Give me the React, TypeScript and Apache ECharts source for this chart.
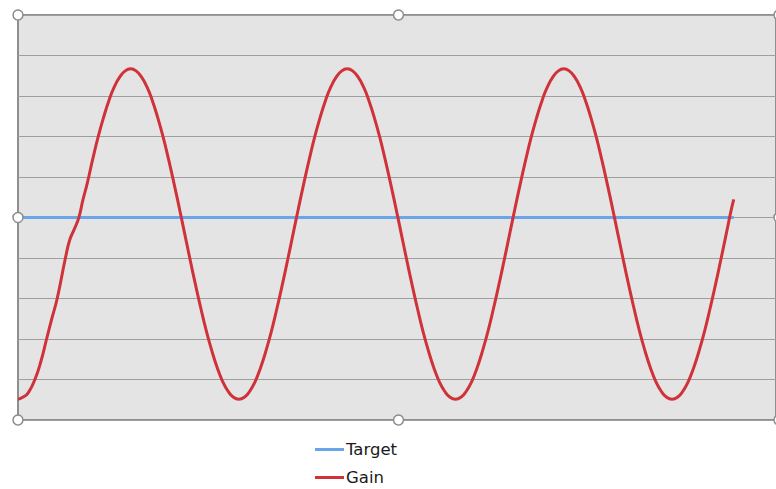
import React, { useEffect, useRef } from "react";
import * as echarts from "echarts";

// Sampled response: time (x) and gain level (y)
const gainX = [
  0, 0.22, 0.47, 0.78, 1.06, 1.32, 1.56, 1.81, 2.19, 2.39, 2.59, 2.81, 3.0,
  3.2, 3.45, 3.7, 3.95, 4.2, 4.45, 4.7, 4.95,
  5.2, 5.45, 5.7, 5.95, 6.2, 6.45, 6.7, 6.95, 7.2, 7.45, 7.7, 7.95, 8.2, 8.45, 8.7, 8.95, 9.2, 9.45, 9.7, 9.95,
  10.2, 10.45, 10.7, 10.95, 11.2, 11.45, 11.7, 11.95, 12.2, 12.45, 12.7, 12.95, 13.2, 13.45, 13.7, 13.95, 14.2, 14.45, 14.7, 14.95,
  15.2, 15.45, 15.7, 15.95, 16.2, 16.45, 16.7, 16.95, 17.2, 17.45, 17.7, 17.95, 18.2, 18.45, 18.7, 18.95, 19.2, 19.45, 19.7, 19.95,
  20.2, 20.45, 20.7, 20.95, 21.2, 21.45, 21.7, 21.95, 22.2, 22.45, 22.7, 22.95, 23.2, 23.45, 23.7, 23.95, 24.2, 24.45, 24.7, 24.95,
  25.2, 25.45, 25.7, 25.95, 26.2, 26.45, 26.7, 26.95, 27.2, 27.45, 27.7, 27.95, 28.2, 28.45, 28.7, 28.95, 29.2, 29.45, 29.7, 29.95,
  30.2, 30.45, 30.7, 30.95, 31.2, 31.45, 31.7, 31.95, 32.2, 32.45, 32.7, 32.95, 33.05,
];
const gainY = [
  0.51, 0.56, 0.67, 1.0, 1.45, 2.0, 2.5, 3.0, 4.0, 4.45, 4.7, 5.0, 5.44,
  5.85, 6.44, 6.99, 7.47, 7.89, 8.23, 8.47, 8.62,
  8.67, 8.62, 8.47, 8.23, 7.89, 7.47, 6.99, 6.44, 5.85, 5.23, 4.59, 3.95, 3.33, 2.74, 2.19, 1.71, 1.29, 0.95, 0.71, 0.56,
  0.51, 0.56, 0.71, 0.95, 1.29, 1.71, 2.19, 2.74, 3.33, 3.95, 4.59, 5.23, 5.85, 6.44, 6.99, 7.47, 7.89, 8.23, 8.47, 8.62,
  8.67, 8.62, 8.47, 8.23, 7.89, 7.47, 6.99, 6.44, 5.85, 5.23, 4.59, 3.95, 3.33, 2.74, 2.19, 1.71, 1.29, 0.95, 0.71, 0.56,
  0.51, 0.56, 0.71, 0.95, 1.29, 1.71, 2.19, 2.74, 3.33, 3.95, 4.59, 5.23, 5.85, 6.44, 6.99, 7.47, 7.89, 8.23, 8.47, 8.62,
  8.67, 8.62, 8.47, 8.23, 7.89, 7.47, 6.99, 6.44, 5.85, 5.23, 4.59, 3.95, 3.33, 2.74, 2.19, 1.71, 1.29, 0.95, 0.71, 0.56,
  0.51, 0.56, 0.71, 0.95, 1.29, 1.71, 2.19, 2.74, 3.33, 3.95, 4.59, 5.23, 5.45,
];
const targetX = [0, 33.05];
const targetY = [5, 5];

const seriesNames = ["Target", "Gain"];

const PLOT = { left: 18, top: 15, width: 761, height: 405 };

export default function App() {
  const ref = useRef<HTMLDivElement>(null);

  useEffect(() => {
    if (!ref.current) return;
    const chart = echarts.init(ref.current, undefined, { renderer: "svg" });

    const l = PLOT.left;
    const r = PLOT.left + PLOT.width;
    const t = PLOT.top;
    const b = PLOT.top + PLOT.height;
    const cx = (l + r) / 2;
    const cy = (t + b) / 2;
    // selection handles around the plot area
    const handles = [
      [l, t], [cx, t], [r, t],
      [l, cy], [r, cy],
      [l, b], [cx, b], [r, b],
    ].map(([x, y]) => ({
      type: "circle",
      shape: { cx: x, cy: y, r: 5 },
      style: { fill: "#ffffff", stroke: "#8c8c8c", lineWidth: 1.5 },
      z: 100,
    }));

    chart.setOption({
      animation: false,
      grid: {
        ...PLOT,
        show: true,
        backgroundColor: "#e4e4e4",
        borderColor: "#8f8f8f",
        borderWidth: 2,
      },
      xAxis: {
        type: "value",
        min: 0,
        max: 35,
        axisLine: { show: false },
        axisTick: { show: false },
        axisLabel: { show: false },
        splitLine: { show: false },
      },
      yAxis: {
        type: "value",
        min: 0,
        max: 10,
        interval: 1,
        axisLine: { show: false },
        axisTick: { show: false },
        axisLabel: { show: false },
        splitLine: { show: true, lineStyle: { color: "#9e9e9e", width: 1 } },
      },
      legend: {
        data: seriesNames,
        orient: "vertical",
        left: 315,
        top: 441,
        height: 80,
        padding: 0,
        itemWidth: 29,
        itemHeight: 3,
        itemGap: 11,
        icon: "rect",
        textStyle: {
          fontFamily: "DejaVu Sans",
          fontSize: 16.5,
          color: "#1a1a1a",
          padding: [0, 0, 0, -3],
        },
      },
      series: [
        {
          name: seriesNames[0],
          type: "line",
          showSymbol: false,
          symbol: "none",
          data: targetX.map((x, i) => [x, targetY[i]]),
          lineStyle: { color: "#6aa5ea", width: 3 },
          itemStyle: { color: "#6aa5ea" },
          z: 2,
        },
        {
          name: seriesNames[1],
          type: "line",
          showSymbol: false,
          symbol: "none",
          smooth: 0.5,
          data: gainX.map((x, i) => [x, gainY[i]]),
          lineStyle: { color: "#d0323a", width: 3 },
          itemStyle: { color: "#d0323a" },
          z: 3,
        },
      ],
      graphic: handles,
    });

    return () => chart.dispose();
  }, []);

  return (
    <div
      ref={ref}
      style={{ position: "absolute", left: 0, top: 0, width: 776, height: 489, background: "#ffffff" }}
    />
  );
}
